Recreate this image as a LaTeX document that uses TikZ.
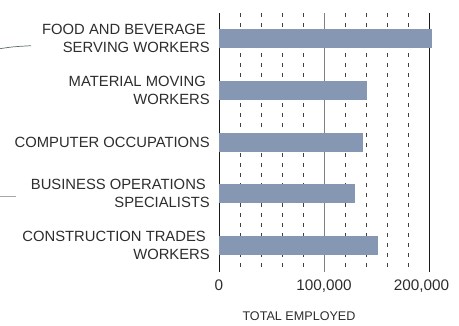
\documentclass[tikz,border=0pt]{standalone}
\usepackage{fontspec}
\setmainfont{Liberation Sans}
\usepackage{tikz}
\usetikzlibrary{positioning}
\definecolor{barblue}{RGB}{133,151,179}
\definecolor{txtgray}{RGB}{45,45,45}
\definecolor{strokegray}{RGB}{95,110,108}

\begin{document}
\begin{tikzpicture}[x=1pt, y=-1pt,
    bar/.style={fill=barblue, anchor=west, minimum height=18.6pt, inner sep=0pt},
    cat/.style={align=right, anchor=east, inner sep=0pt, text=txtgray, font=\fontsize{14.8}{18}\selectfont},
    tick/.style={text=txtgray, font=\fontsize{15.3}{16}\selectfont},
    gridline/.style={draw=black!75, dash pattern=on 4pt off 6pt, line width=0.6pt}]
  \useasboundingbox (0,0) rectangle (459,325);
  % grid and axis
  \foreach \g in {1,2,3,4,6,7,8,9}
    \draw[gridline] (219+\g*21,13) -- (219+\g*21,272);
  \draw[black!50, line width=0.8pt] (324,13) -- (324,272);
  \draw[black!90, line width=0.8pt] (429,13) -- (429,272);
  \draw[black!90, line width=0.8pt] (219,13) -- (219,272);
  % bars
  \node[bar, minimum width=212.7pt] (b1) at (219,38.3) {};
  \node[bar, minimum width=147.7pt] (b2) at (219,90.3) {};
  \node[bar, minimum width=143.7pt] (b3) at (219,142.3) {};
  \node[bar, minimum width=136pt]   (b4) at (219,193.3) {};
  \node[bar, minimum width=158.7pt] (b5) at (219,245.3) {};
  % categories
  \node[cat, left=9pt of b1.west] (l1) {FOOD AND BEVERAGE\hspace*{4pt}\\SERVING WORKERS};
  \node[cat, left=9pt of b2.west] (l2) {MATERIAL MOVING\hspace*{4pt}\\WORKERS};
  \node[cat, left=9pt of b3.west] (l3) {COMPUTER OCCUPATIONS};
  \node[cat, left=9pt of b4.west] (l4) {BUSINESS OPERATIONS\hspace*{4pt}\\SPECIALISTS};
  \node[cat, left=9pt of b5.west] (l5) {CONSTRUCTION TRADES\hspace*{4pt}\\WORKERS};
  % ticks
  \node[tick] (t0) at (219,285.7) {0};
  \node[tick] (t1) at (324,285.7) {100,000};
  \node[tick] (t2) at (421.5,285.7) {200,000};
  \node[text=txtgray, font=\fontsize{12.6}{14}\selectfont] (xl) at (299,316) {TOTAL EMPLOYED};
  % leftover strokes
  \draw[strokegray, line width=0.7pt] (0,48.7) .. controls (12,46.8) .. (31,45.7);
  \draw[black!35, line width=0.7pt] (0,196) -- (15.5,196);
\end{tikzpicture}
\end{document}
